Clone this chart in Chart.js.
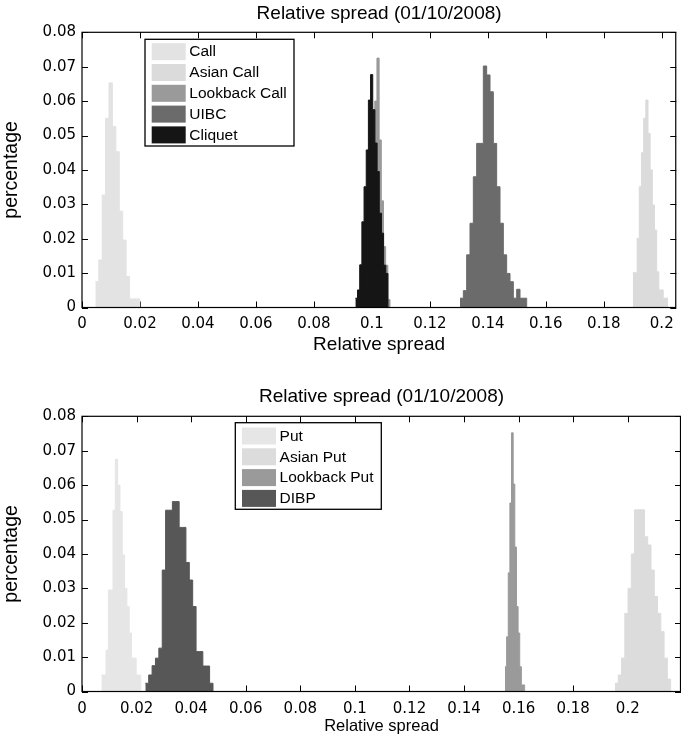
<!DOCTYPE html>
<html>
<head>
<meta charset="utf-8">
<script src="https://cdn.jsdelivr.net/npm/chart.js@4.4.0/dist/chart.umd.min.js"></script>
<style>
  body { margin: 0; background: #fff; }
  canvas { position: absolute; left: 0; }
  #callChart { top: 0; }
  #putChart { top: 362px; }
</style>
</head>
<body>
<canvas id="callChart" width="681" height="362"></canvas>
<canvas id="putChart" width="681" height="376"></canvas>
<script>
// tick labels
const xTicks = [0, 0.02, 0.04, 0.06, 0.08, 0.1, 0.12, 0.14, 0.16, 0.18, 0.2];
const yTicks = [0, 0.01, 0.02, 0.03, 0.04, 0.05, 0.06, 0.07, 0.08];

// top panel: histogram heights, first bin edge and bin width per series
const callLabels = ["Call", "Asian Call", "Lookback Call", "UIBC", "Cliquet"];
const callBinStart = [0.0046, 0.19, 0.0965, 0.1304, 0.0943];
const callBinWidth = [0.00118, 0.00075, 0.00075, 0.00115, 0.00075];
const callValues = [0.0075, 0.0138, 0.0327, 0.055, 0.0653, 0.0526, 0.0453, 0.028, 0.0196, 0.009, 0.0025, 0.0025, 0.0025];
const asianCallValues = [0.0101, 0.0101, 0.0201, 0.0351, 0.045, 0.055, 0.0603, 0.0506, 0.04, 0.0298, 0.0225, 0.0104, 0.0051, 0.0051, 0.0027, 0.0027];
const lookbackCallValues = [0.002, 0.006, 0.012, 0.022, 0.033, 0.045, 0.06, 0.0725, 0.0487, 0.031, 0.0177, 0.0123, 0.0023];
const uibcValues = [0.0027, 0.0049, 0.0153, 0.0245, 0.038, 0.0477, 0.0477, 0.0702, 0.0676, 0.0627, 0.0477, 0.0351, 0.0245, 0.0153, 0.0099, 0.0075, 0.0027, 0.0053, 0.0027, 0.0027];
const cliquetValues = [0.0027, 0.0051, 0.0124, 0.0249, 0.0351, 0.0458, 0.0603, 0.0677, 0.0575, 0.0478, 0.0395, 0.0274, 0.0216, 0.0123, 0.0099];

// bottom panel
const putLabels = ["Put", "Asian Put", "Lookback Put", "DIBP"];
const putBinStart = [0.0071, 0.1953, 0.155, 0.0232];
const putBinWidth = [0.00085, 0.0012, 0.0006, 0.00124];
const putValues = [0.0048, 0.0048, 0.012, 0.0295, 0.0295, 0.0527, 0.0675, 0.06, 0.0523, 0.0397, 0.03, 0.0247, 0.017, 0.0097, 0.0097, 0.0048, 0.0048];
const asianPutValues = [0.0024, 0.0048, 0.0097, 0.0227, 0.03, 0.04, 0.0528, 0.0528, 0.0528, 0.045, 0.0426, 0.0353, 0.0276, 0.0227, 0.0174, 0.0097, 0.0036];
const lookbackPutValues = [0.0072, 0.0159, 0.0345, 0.0548, 0.0752, 0.0603, 0.042, 0.0247, 0.017, 0.0072, 0.0019, 0.0019];
const dibpValues = [0.0024, 0.0048, 0.0075, 0.0097, 0.0126, 0.0353, 0.0527, 0.0527, 0.0552, 0.0552, 0.0477, 0.0477, 0.0375, 0.0324, 0.0247, 0.0116, 0.0116, 0.0074, 0.0074, 0.0024];

const callColors = ["#e3e3e3", "#dbdbdb", "#9a9a9a", "#6b6b6b", "#151515"];
const putColors = ["#e6e6e6", "#dcdcdc", "#9a9a9a", "#575757"];

const SANS = "'Liberation Sans', Arial, sans-serif";
const TICKFONT = "'DejaVu Sans', sans-serif";

// histogram -> step outline points
function steps(start, width, values) {
  const pts = values.map((v, i) => ({ x: start + i * width, y: v }));
  pts.push({ x: start + values.length * width, y: 0 });
  return pts;
}

function fmt(v) {
  return String(Math.round(v * 1000) / 1000);
}

// matlab style box, inward ticks and boxed legend
const frame = {
  id: "frame",
  beforeDatasetsDraw(chart) {
    const { ctx, chartArea: a, scales } = chart;
    const tl = 6;
    ctx.save();
    ctx.strokeStyle = "#000";
    ctx.lineWidth = 1;
    ctx.beginPath();
    xTicks.forEach((v) => {
      const px = Math.round(scales.x.getPixelForValue(v)) + 0.5;
      ctx.moveTo(px, a.bottom);
      ctx.lineTo(px, a.bottom - tl);
      ctx.moveTo(px, a.top);
      ctx.lineTo(px, a.top + tl);
    });
    yTicks.forEach((v) => {
      const py = Math.round(scales.y.getPixelForValue(v)) + 0.5;
      ctx.moveTo(a.left, py);
      ctx.lineTo(a.left + tl, py);
      ctx.moveTo(a.right, py);
      ctx.lineTo(a.right - tl, py);
    });
    ctx.stroke();
    ctx.restore();
  },
  afterDatasetsDraw(chart, args, opts) {
    const { ctx, chartArea: a } = chart;
    ctx.save();
    ctx.strokeStyle = "#000";
    ctx.lineWidth = 1.2;
    ctx.strokeRect(a.left, a.top, a.right - a.left - 0.5, a.bottom - a.top);

    // legend box
    const sets = chart.data.datasets;
    const bx = a.left + opts.dx,
      by = a.top + opts.dy;
    const rowH = 20.8;
    const bh = sets.length * rowH + opts.pad;
    ctx.fillStyle = "#fff";
    ctx.fillRect(bx, by, opts.w, bh);
    ctx.lineWidth = 1.3;
    ctx.strokeRect(bx, by, opts.w, bh);
    ctx.font = "15.5px " + SANS;
    ctx.textBaseline = "middle";
    sets.forEach((ds, i) => {
      const cy = by + opts.first + i * rowH;
      ctx.fillStyle = ds.backgroundColor;
      ctx.fillRect(bx + 6.7, cy - 8.5, 34, 17);
      ctx.fillStyle = "#000";
      ctx.fillText(ds.label, bx + 44.3, cy + 0.5);
    });
    ctx.restore();
  },
};

function makeChart(id, cfg) {
  const datasets = cfg.labels.map((label, i) => ({
    label,
    data: steps(cfg.start[i], cfg.width[i], cfg.values[i]),
    backgroundColor: cfg.colors[i],
    borderColor: cfg.colors[i],
    borderWidth: 1,
    fill: "origin",
    stepped: true,
    pointRadius: 0,
    order: -i,
  }));

  return new Chart(document.getElementById(id), {
    type: "line",
    data: { datasets },
    options: {
      responsive: false,
      animation: false,
      layout: { padding: 0 },
      scales: {
        x: {
          type: "linear",
          min: 0,
          max: cfg.xMax,
          afterBuildTicks: (s) => (s.ticks = xTicks.map((v) => ({ value: v }))),
          afterFit: (s) => (s.height = cfg.xHeight),
          grid: { display: false, drawTicks: false },
          border: { display: false },
          ticks: {
            padding: cfg.xPad,
            maxRotation: 0,
            autoSkip: false,
            color: "#000",
            font: { family: TICKFONT, size: 15 },
            callback: fmt,
          },
          title: {
            display: true,
            text: "Relative spread",
            color: "#000",
            font: { family: SANS, size: cfg.xTitleSize },
            padding: { top: 0, bottom: cfg.xTitlePad },
          },
        },
        y: {
          min: 0,
          max: 0.08,
          afterBuildTicks: (s) => (s.ticks = yTicks.map((v) => ({ value: v }))),
          afterFit: (s) => (s.width = 82),
          grid: { display: false, drawTicks: false },
          border: { display: false },
          ticks: {
            padding: 6,
            color: "#000",
            font: { family: TICKFONT, size: 15 },
            callback: fmt,
          },
          title: {
            display: true,
            text: "percentage",
            color: "#000",
            font: { family: SANS, size: 19.5 },
            padding: { top: 0.4, bottom: 0 },
          },
        },
      },
      plugins: {
        legend: { display: false },
        tooltip: { enabled: false },
        title: {
          display: true,
          fullSize: false,
          text: "Relative spread (01/10/2008)",
          color: "#000",
          font: { family: SANS, size: 19, weight: "normal" },
          padding: cfg.titlePad,
        },
        frame: cfg.legend,
      },
    },
    plugins: [frame],
  });
}

makeChart("callChart", {
  labels: callLabels,
  start: callBinStart,
  width: callBinWidth,
  values: [callValues, asianCallValues, lookbackCallValues, uibcValues, cliquetValues],
  colors: callColors,
  xMax: 0.205,
  xHeight: 54.5,
  xPad: 7.2,
  xTitleSize: 19,
  xTitlePad: 5.6,
  titlePad: { top: 2.6, bottom: 6.9 },
  legend: { dx: 63, dy: 7, w: 149, pad: 2.7, first: 12.4 },
});

makeChart("putChart", {
  labels: putLabels,
  start: putBinStart,
  width: putBinWidth,
  values: [putValues, asianPutValues, lookbackPutValues, dibpValues],
  colors: putColors,
  xMax: 0.2195,
  xHeight: 46.5,
  xPad: 8.8,
  xTitleSize: 16.5,
  xTitlePad: 2.1,
  titlePad: { top: 23.6, bottom: 7.9 },
  legend: { dx: 153.3, dy: 6.4, w: 146, pad: 3.4, first: 13.3 },
});
</script>
</body>
</html>
